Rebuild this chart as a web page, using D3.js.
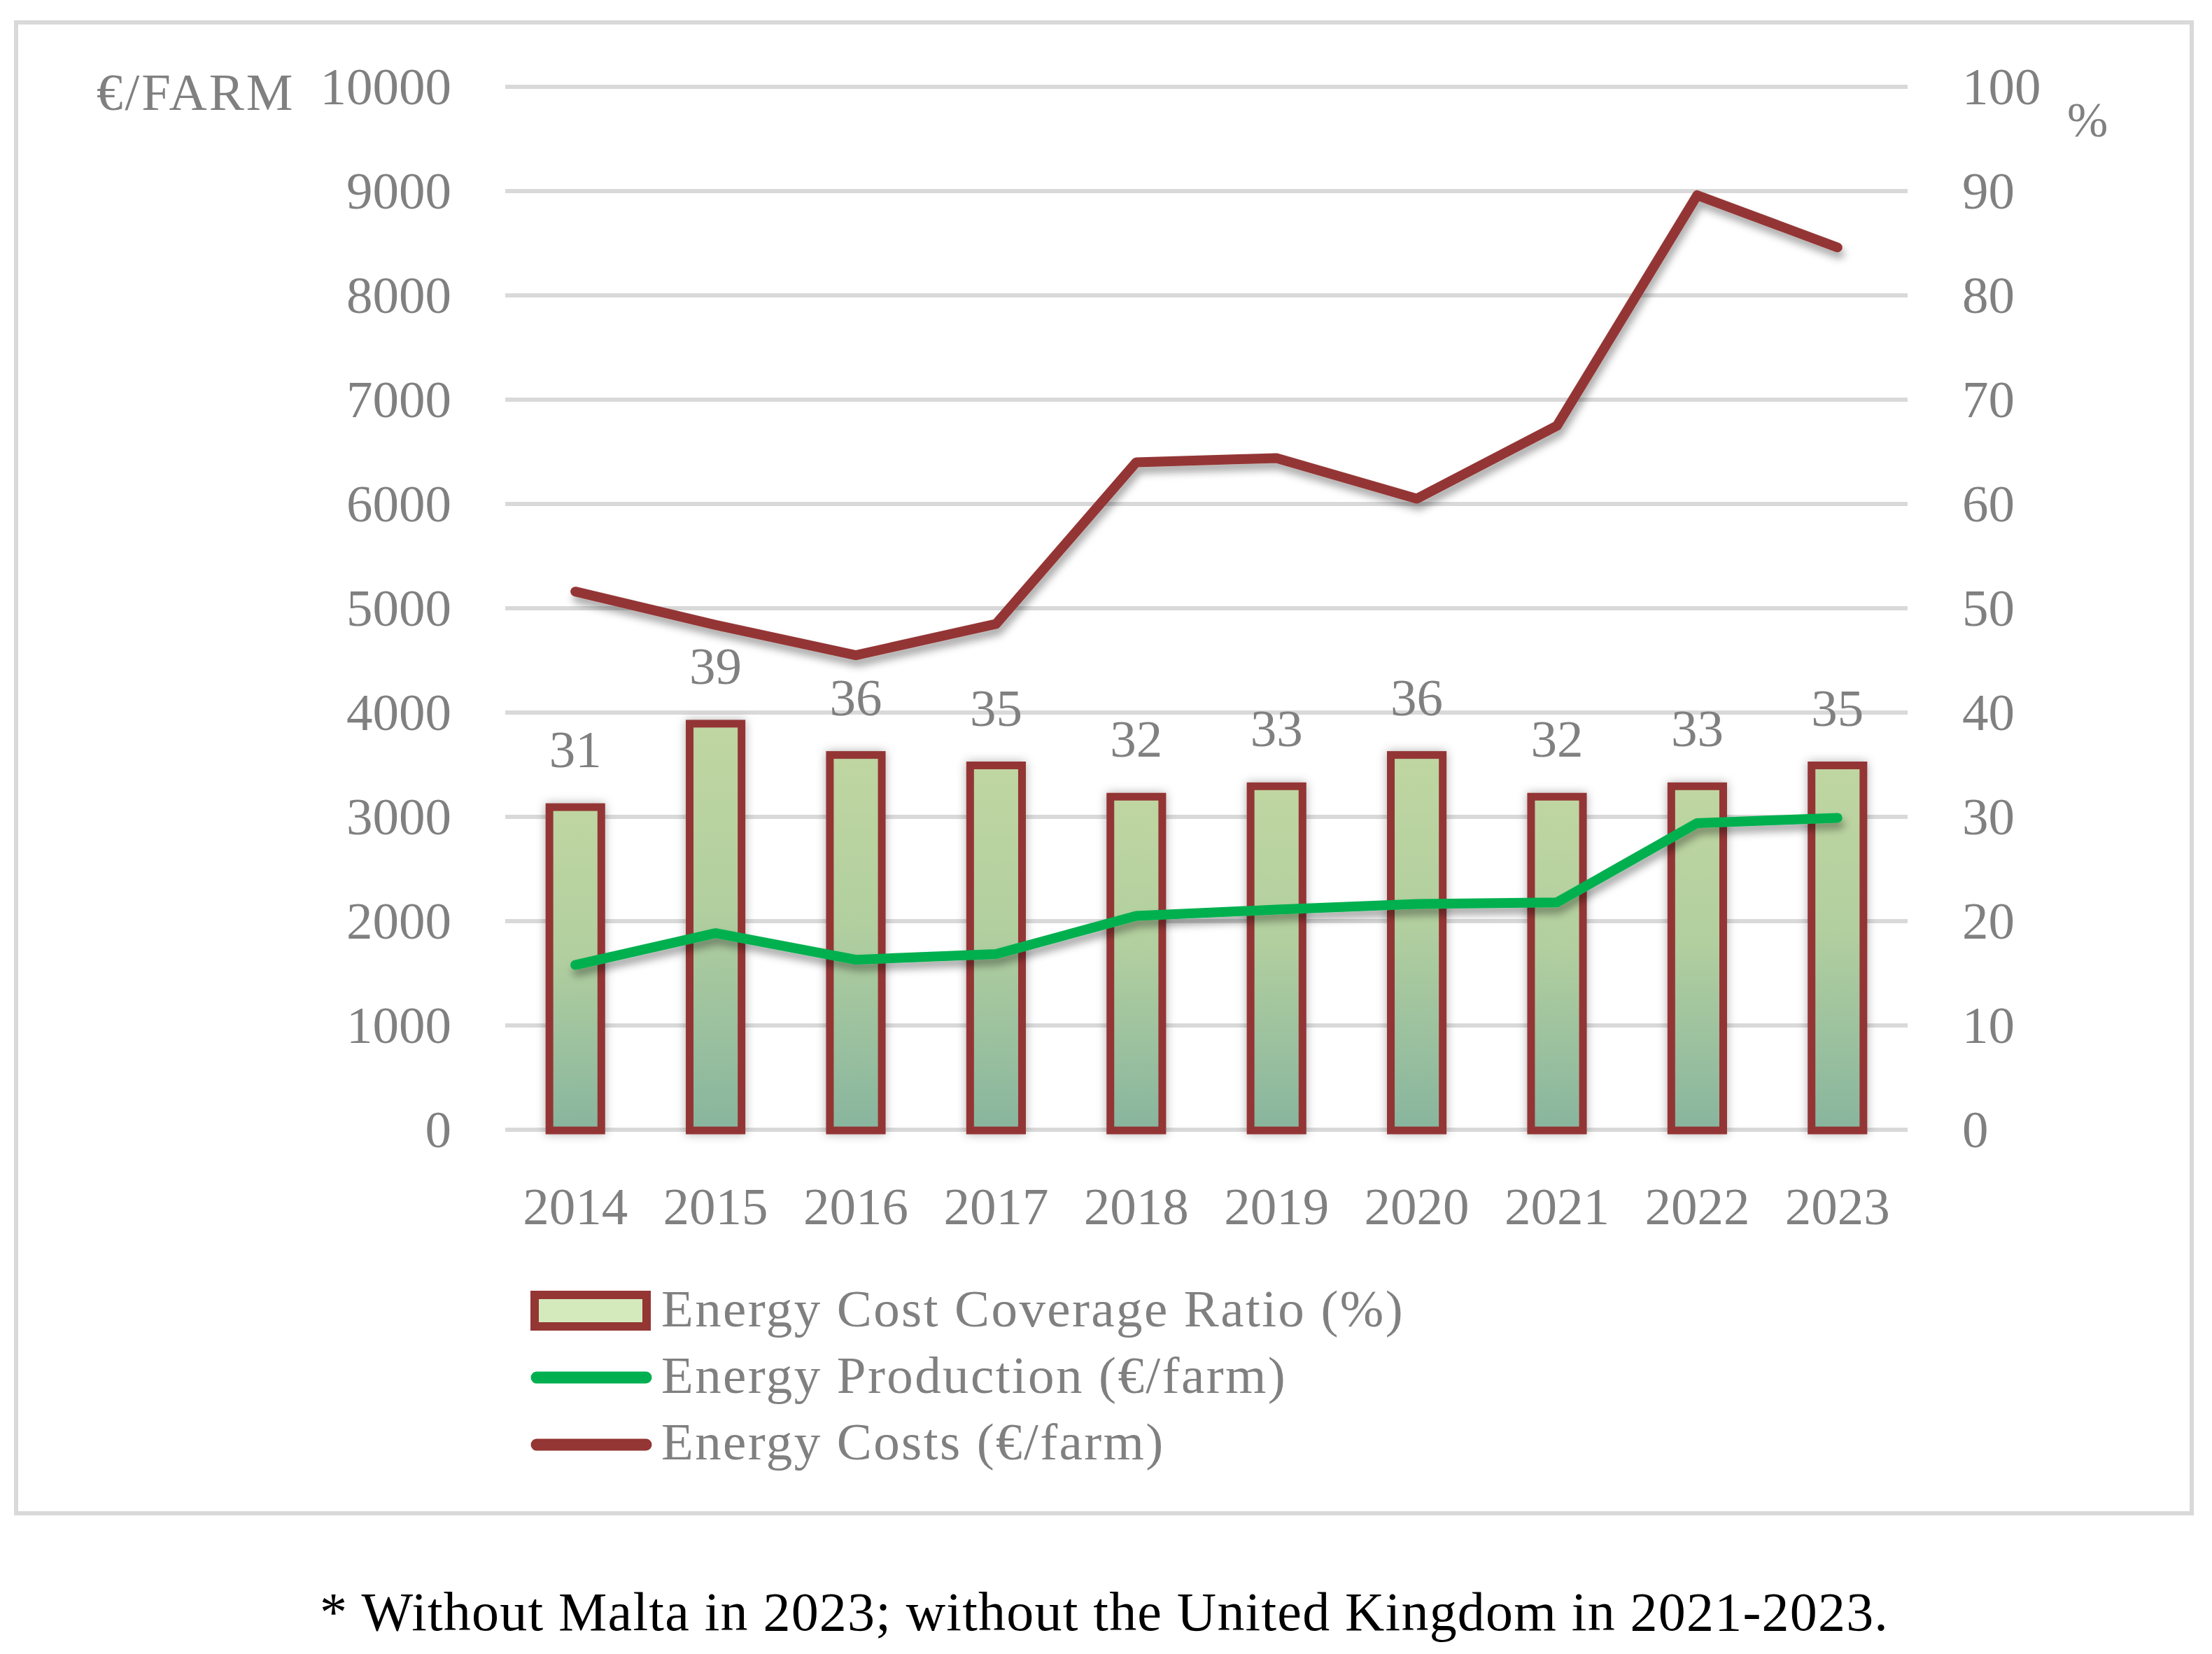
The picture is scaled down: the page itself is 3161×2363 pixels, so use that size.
<!DOCTYPE html>
<html>
<head>
<meta charset="utf-8">
<script src="https://cdn.jsdelivr.net/npm/d3@7"></script>
<style>
  html, body { margin: 0; padding: 0; background: #fff; }
  svg { display: block; }
  text { font-family: "Liberation Serif", "DejaVu Serif", serif; }
</style>
</head>
<body>
<svg id="chart" width="3161" height="2363"></svg>
<script>
// ---- data ----
const years = ["2014","2015","2016","2017","2018","2019","2020","2021","2022","2023"];
const coverageRatio = [31, 39, 36, 35, 32, 33, 36, 32, 33, 35];            // % (right axis)
const energyProduction = [1580, 1885, 1630, 1685, 2050, 2110, 2165, 2180, 2940, 2990]; // €/farm
const energyCosts = [5160, 4840, 4550, 4850, 6400, 6440, 6050, 6750, 8960, 8460];     // €/farm
const leftTicks = [0,1000,2000,3000,4000,5000,6000,7000,8000,9000,10000];
const rightTicks = [0,10,20,30,40,50,60,70,80,90,100];
const legendLabels = ["Energy Cost Coverage Ratio (%)", "Energy Production (€/farm)", "Energy Costs (€/farm)"];
const leftUnit = "€/FARM";
const rightUnit = "%";
const footnote = "* Without Malta in 2023; without the United Kingdom in 2021-2023.";

// ---- layout ----
const svg = d3.select("#chart");
const plot = { left: 722, right: 2726, top: 124, bottom: 1614 };
const grey = "#808080";
const red = "#943634";
const green = "#00b050";
const fs = 75;

const x = d3.scaleBand().domain(years).range([plot.left, plot.right]).paddingInner(0.63).paddingOuter(0.315);
const yL = d3.scaleLinear().domain([0, 10000]).range([plot.bottom, plot.top]);
const yR = d3.scaleLinear().domain([0, 100]).range([plot.bottom, plot.top]);
const cx = d => x(d) + x.bandwidth() / 2;

const defs = svg.append("defs");
const grad = defs.append("linearGradient").attr("id", "barGrad").attr("x1", 0).attr("y1", 0).attr("x2", 0).attr("y2", 1);
grad.append("stop").attr("offset", "0%").attr("stop-color", "#bfd6a1");
grad.append("stop").attr("offset", "45%").attr("stop-color", "#b2cf9f");
grad.append("stop").attr("offset", "100%").attr("stop-color", "#88b59e");
const sh = defs.append("filter").attr("id", "shadow").attr("x", "-20%").attr("y", "-20%").attr("width", "140%").attr("height", "140%");
sh.append("feDropShadow").attr("dx", 3).attr("dy", 9).attr("stdDeviation", 6).attr("flood-color", "#000").attr("flood-opacity", 0.35);
const sh2 = defs.append("filter").attr("id", "barShadow").attr("x", "-40%").attr("y", "-10%").attr("width", "180%").attr("height", "120%");
sh2.append("feDropShadow").attr("dx", 0).attr("dy", 0).attr("stdDeviation", 7).attr("flood-color", "#000").attr("flood-opacity", 0.3);

// frame
svg.append("rect").attr("x", 23).attr("y", 32).attr("width", 3109).attr("height", 2130)
  .attr("fill", "#fff").attr("stroke", "#d9d9d9").attr("stroke-width", 6);

// gridlines
svg.append("g").selectAll("line").data(leftTicks).join("line")
  .attr("x1", plot.left).attr("x2", plot.right)
  .attr("y1", d => yL(d)).attr("y2", d => yL(d))
  .attr("stroke", "#d9d9d9").attr("stroke-width", 6);

// left axis
const axL = svg.append("g").attr("transform", `translate(${plot.left},0)`)
  .call(d3.axisLeft(yL).tickValues(leftTicks).tickSize(0).tickPadding(77).tickFormat(d3.format("d")));
axL.select(".domain").remove();
axL.selectAll("text").attr("font-size", fs).attr("fill", grey).attr("font-family", null).attr("dy", "0.32em");

// right axis
const axR = svg.append("g").attr("transform", `translate(${plot.right},0)`)
  .call(d3.axisRight(yR).tickValues(rightTicks).tickSize(0).tickPadding(78).tickFormat(d3.format("d")));
axR.select(".domain").remove();
axR.selectAll("text").attr("font-size", fs).attr("fill", grey).attr("font-family", null).attr("dy", "0.32em");

// bottom axis
const axB = svg.append("g").attr("transform", `translate(0,${plot.bottom})`)
  .call(d3.axisBottom(x).tickSize(0).tickPadding(82));
axB.select(".domain").remove();
axB.selectAll("text").attr("font-size", fs).attr("fill", grey).attr("font-family", null);

// unit labels
svg.append("text").attr("x", 138).attr("y", 157).attr("font-size", fs).attr("fill", grey).attr("letter-spacing", 3).text(leftUnit);
svg.append("text").attr("x", 2954).attr("y", 195).attr("font-size", 70).attr("fill", grey).text(rightUnit);

// bars
const bars = years.map((y, i) => ({ year: y, v: coverageRatio[i] }));
svg.append("g").attr("filter", "url(#barShadow)").selectAll("rect").data(bars).join("rect")
  .attr("x", d => x(d.year)).attr("width", x.bandwidth())
  .attr("y", d => yR(d.v) + 1).attr("height", d => plot.bottom - yR(d.v))
  .attr("fill", "url(#barGrad)").attr("stroke", red).attr("stroke-width", 11);

// bar labels
svg.append("g").selectAll("text").data(bars).join("text")
  .attr("x", d => cx(d.year)).attr("y", d => yR(d.v) - 56)
  .attr("text-anchor", "middle").attr("font-size", fs).attr("fill", grey)
  .text(d => d.v);

// lines
const line = d3.line().x(d => cx(d.year)).y(d => yL(d.v));
const prodData = years.map((y, i) => ({ year: y, v: energyProduction[i] }));
const costData = years.map((y, i) => ({ year: y, v: energyCosts[i] }));
svg.append("path").datum(prodData).attr("d", line).attr("fill", "none")
  .attr("stroke", green).attr("stroke-width", 14).attr("stroke-linecap", "round").attr("stroke-linejoin", "round")
  .attr("filter", "url(#shadow)");
svg.append("path").datum(costData).attr("d", line).attr("fill", "none")
  .attr("stroke", red).attr("stroke-width", 14).attr("stroke-linecap", "round").attr("stroke-linejoin", "round")
  .attr("filter", "url(#shadow)");

// legend
const lg = svg.append("g");
const rowY = [1895, 1990, 2085];
lg.append("rect").attr("x", 764).attr("y", 1850).attr("width", 160).attr("height", 45)
  .attr("fill", "#d4eabc").attr("stroke", red).attr("stroke-width", 12);
lg.append("line").attr("x1", 767).attr("x2", 923).attr("y1", 1968).attr("y2", 1968)
  .attr("stroke", green).attr("stroke-width", 17).attr("stroke-linecap", "round");
lg.append("line").attr("x1", 767).attr("x2", 923).attr("y1", 2064).attr("y2", 2064)
  .attr("stroke", red).attr("stroke-width", 17).attr("stroke-linecap", "round");
lg.selectAll("text").data(legendLabels).join("text")
  .attr("x", 945).attr("y", (d, i) => rowY[i])
  .attr("font-size", fs).attr("fill", grey).attr("letter-spacing", 2.4)
  .text(d => d);

// footnote
svg.append("text").attr("x", 1578).attr("y", 2329).attr("text-anchor", "middle")
  .attr("font-size", 78).attr("fill", "#000").attr("letter-spacing", 1.2).text(footnote);
</script>
</body>
</html>
